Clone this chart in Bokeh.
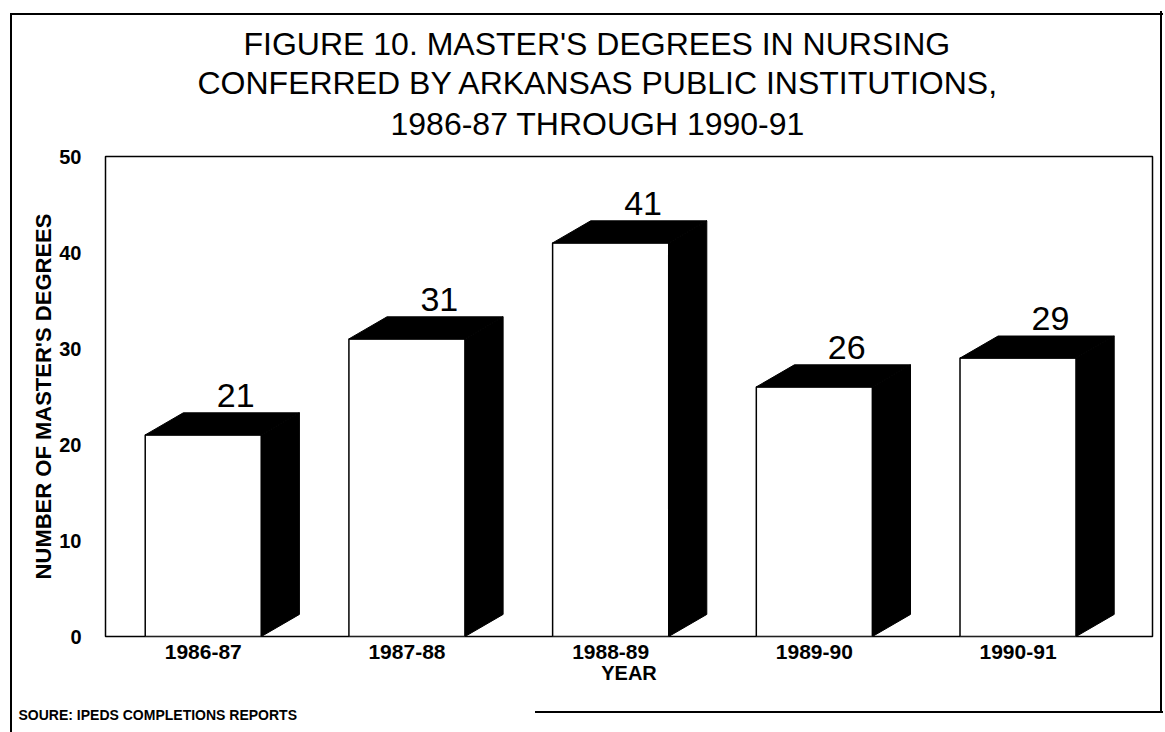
import numpy as np
from bokeh.plotting import figure
from bokeh.models import Range1d, FixedTicker, Title, ColumnDataSource
from bokeh.core.properties import value
from bokeh.embed import file_html
from bokeh.resources import INLINE

# ---- data ----
years = ["1986-87", "1987-88", "1988-89", "1989-90", "1990-91"]
degrees = [21, 31, 41, 26, 29]
y_ticks = [0, 10, 20, 30, 40, 50]
title_lines = [
    "FIGURE 10. MASTER'S DEGREES IN NURSING",
    "CONFERRED BY ARKANSAS PUBLIC INSTITUTIONS,",
    "1986-87 THROUGH 1990-91",
]
source_note = "SOURE: IPEDS COMPLETIONS REPORTS"
x_title = "YEAR"
y_title = "NUMBER OF MASTER'S DEGREES"

FONT = "Liberation Sans"
HALF = 0.285   # half width of the front face (category units)
DX = 0.187     # 3-D depth, horizontal (category units)
DY = 2.3       # 3-D depth, vertical (data units)

xs = np.arange(len(years), dtype=float)
vals = np.array(degrees, dtype=float)

p = figure(
    frame_width=1047, frame_height=480,
    x_range=Range1d(-0.48, 4.66), y_range=Range1d(0, 50),
    output_backend="svg", toolbar_location=None,
    min_border_left=105, min_border_right=11, min_border_top=156, min_border_bottom=94,
)

# front faces
front = ColumnDataSource(dict(left=xs - HALF, right=xs + HALF, top=vals, bottom=np.zeros_like(vals)))
p.quad(left="left", right="right", top="top", bottom="bottom", source=front,
       fill_color="white", line_color="black", line_width=1.5)

# side faces
side_x = [[x + HALF, x + HALF + DX, x + HALF + DX, x + HALF] for x in xs]
side_y = [[0, DY, v + DY, v] for v in vals]
p.patches(side_x, side_y, fill_color="black", line_color="black", line_width=1)

# top faces
top_x = [[x - HALF, x - HALF + DX, x + HALF + DX, x + HALF] for x in xs]
top_y = [[v, v + DY, v + DY, v] for v in vals]
p.patches(top_x, top_y, fill_color="black", line_color="black", line_width=1)

# value labels, centred over the back edge of each top face
lab = ColumnDataSource(dict(x=xs + DX * 0.85, y=vals + DY, t=[str(d) for d in degrees]))
p.text(x="x", y="y", text="t", source=lab, text_align="center", text_baseline="bottom",
       y_offset=-6, text_font=value(FONT), text_font_size="34px", text_color="black")

# frame / grid
p.xgrid.visible = False
p.ygrid.visible = False
p.outline_line_color = "black"
p.outline_line_width = 1.5
p.background_fill_color = "white"
p.border_fill_color = None

# axes
p.xaxis.ticker = FixedTicker(ticks=[float(x) for x in xs])
p.xaxis.major_label_overrides = {float(i): y for i, y in enumerate(years)}
p.yaxis.ticker = FixedTicker(ticks=y_ticks)
for ax in (p.xaxis[0], p.yaxis[0]):
    ax.axis_line_color = None
    ax.major_tick_line_color = None
    ax.minor_tick_line_color = None
    ax.major_label_text_font = FONT
    ax.major_label_text_font_style = "bold"
    ax.major_label_text_color = "black"
    ax.axis_label_text_font = FONT
    ax.axis_label_text_font_style = "bold"
    ax.axis_label_text_color = "black"

p.xaxis.major_label_text_font_size = "21px"
p.xaxis.major_label_standoff = 2
p.xaxis.axis_label = x_title
p.xaxis.axis_label_text_font_size = "20px"
p.xaxis.axis_label_standoff = 0

p.yaxis.major_label_text_font_size = "20px"
p.yaxis.major_label_standoff = 18
p.yaxis.axis_label = y_title
p.yaxis.axis_label_text_font_size = "22px"
p.yaxis.axis_label_standoff = 0

# title: three lines stacked from the frame outward (line 3 nearest the frame)
title_offsets = [138, 92, 285]     # left offsets that centre each line near x = 596
title_standoffs = [0, 2, 5]
p.title.text = title_lines[0]
p.title.align = "left"
p.title.offset = title_offsets[0]
p.title.text_font = FONT
p.title.text_font_style = "normal"
p.title.text_font_size = "32px"
p.title.text_color = "black"
p.title.standoff = title_standoffs[0]
# small blank spacer between the frame and the last title line
p.add_layout(Title(text=" ", text_font_size="9px", standoff=0), "above")
for i in (2, 1):
    p.add_layout(Title(text=title_lines[i], align="left", offset=title_offsets[i], text_font=FONT,
                       text_font_style="normal", text_font_size="32px",
                       text_color="black", standoff=title_standoffs[i]), "above")

src = Title(text=source_note, align="left", offset=-87, text_font=FONT,
            text_font_style="bold", text_font_size="14px", text_color="black", standoff=36)
p.add_layout(src, "below")

# outer scanned page border drawn as host background lines
p.styles = {
    "background-color": "white",
    "background-image": "linear-gradient(black,black), linear-gradient(black,black), "
                        "linear-gradient(black,black), linear-gradient(black,black)",
    "background-repeat": "no-repeat",
    "background-size": "2px calc(100% - 13px), calc(100% - 10px) 2px, 2px 702px, 628px 2px",
    "background-position": "left 10px top 13px, left 10px top 13px, right 1px top 11px, right 0px top 711px",
}

open("out.html", "w").write(file_html(p, INLINE))
